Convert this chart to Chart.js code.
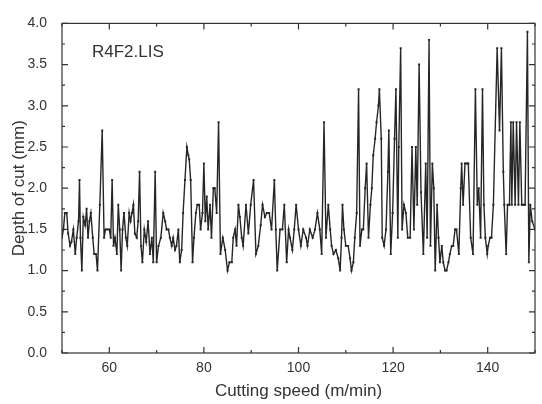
<!DOCTYPE html>
<html>
<head>
<meta charset="utf-8">
<script src="https://cdn.jsdelivr.net/npm/chart.js@4.4.0/dist/chart.umd.min.js"></script>
<style>
  html, body { margin: 0; padding: 0; background: #fff; }
  canvas { display: block; }
</style>
</head>
<body>
<canvas id="depthChart" width="542" height="404"></canvas>
<script>
// Values (cutting speed in m/min, depth of cut in mm)
const speed = [
  50.0, 50.3, 50.6, 51.0, 51.3, 51.7, 52.0, 52.4, 52.8, 53.1, 53.5, 53.7, 53.9, 54.2, 54.5, 54.9,
  55.2, 55.5, 55.8, 56.1, 56.5, 56.8, 57.2, 57.5, 58.0, 58.5, 58.9, 59.2, 59.6, 60.0, 60.3, 60.6,
  60.9, 61.2, 61.6, 61.9, 62.2, 62.5, 62.8, 63.1, 63.5, 63.8, 64.2, 64.5, 64.8, 65.1, 65.4, 65.8,
  66.1, 66.4, 66.7, 67.0, 67.4, 67.8, 68.2, 68.6, 69.0, 69.3, 69.7, 70.0, 70.4, 70.9, 71.4, 71.8,
  72.1, 72.5, 72.8, 73.2, 73.5, 73.9, 74.2, 74.6, 74.9, 75.3, 75.6, 76.0, 76.4, 76.7, 76.9, 77.2,
  77.6, 77.9, 78.3, 78.6, 79.0, 79.3, 79.7, 80.0, 80.3, 80.6, 80.9, 81.3, 81.6, 82.0, 82.3, 82.7,
  83.1, 83.5, 84.0, 84.5, 85.0, 85.4, 85.9, 86.2, 86.6, 86.9, 87.3, 87.6, 88.0, 88.3, 88.9, 89.4,
  89.9, 90.5, 91.0, 91.5, 92.0, 92.4, 92.9, 93.3, 93.8, 94.3, 94.9, 95.2, 95.5, 96.1, 96.6, 97.0,
  97.5, 97.9, 98.2, 98.7, 99.1, 99.5, 100.0, 100.5, 101.0, 101.6, 101.9, 102.4, 103.0, 103.5, 104.0, 104.5,
  104.9, 105.4, 105.8, 106.3, 106.7, 107.0, 107.4, 107.9, 108.4, 108.8, 109.1, 109.3, 109.6, 110.0, 110.5, 110.9,
  111.2, 111.6, 111.9, 112.3, 112.7, 113.0, 113.4, 113.7, 114.1, 114.4, 114.8, 115.2, 115.5, 115.8, 116.2, 116.5,
  116.9, 117.1, 117.5, 117.7, 118.1, 118.5, 118.9, 119.1, 119.5, 119.9, 120.3, 120.6, 121.0, 121.2, 121.6, 121.9,
  122.3, 122.7, 123.1, 123.6, 124.0, 124.4, 124.8, 125.1, 125.5, 125.9, 126.4, 126.9, 127.2, 127.6, 127.9, 128.3,
  128.6, 128.9, 129.3, 129.6, 129.9, 130.3, 130.6, 131.0, 131.3, 131.7, 132.0, 132.4, 132.7, 133.1, 133.4, 133.9,
  134.3, 134.5, 134.8, 135.2, 135.6, 135.9, 136.4, 136.9, 137.4, 137.8, 138.1, 138.5, 138.9, 139.2, 139.5, 139.9,
  140.1, 140.5, 140.8, 141.2, 142.0, 142.5, 142.9, 143.3, 143.5, 143.9, 144.2, 144.6, 144.9, 145.1, 145.4, 145.8,
  146.1, 146.5, 146.8, 147.2, 147.5, 147.9, 148.4, 148.7, 149.0, 149.4, 150.0
];
const depth = [
  1.4, 1.5, 1.7, 1.7, 1.45, 1.3, 1.35, 1.5, 1.2, 1.4, 1.6, 2.1, 1.4, 1.0, 1.65, 1.55,
  1.75, 1.4, 1.6, 1.7, 1.4, 1.2, 1.2, 1.0, 1.8, 2.7, 1.4, 1.5, 1.5, 1.5, 1.4, 2.1,
  1.3, 1.4, 1.2, 1.8, 1.5, 1.0, 1.5, 1.7, 1.4, 1.3, 1.7, 1.6, 1.7, 1.8, 1.45, 1.4,
  1.6, 2.2, 1.3, 1.1, 1.5, 1.35, 1.6, 1.2, 1.4, 1.1, 2.2, 1.1, 1.3, 1.4, 1.7, 1.6,
  1.5, 1.5, 1.4, 1.3, 1.4, 1.25, 1.3, 1.5, 1.1, 1.25, 1.7, 2.1, 2.5, 2.4, 2.35, 2.1,
  1.1, 1.4, 1.7, 1.8, 1.8, 1.5, 1.7, 2.3, 1.6, 1.9, 1.5, 1.8, 1.4, 2.0, 2.0, 1.7,
  2.8, 1.2, 1.4, 1.25, 1.0, 1.1, 1.1, 1.4, 1.5, 1.3, 1.8, 1.65, 1.4, 1.3, 1.8, 1.45,
  1.8, 2.1, 1.2, 1.3, 1.55, 1.8, 1.65, 1.7, 1.7, 1.5, 2.1, 1.5, 1.0, 1.5, 1.5, 1.8,
  1.1, 1.5, 1.4, 1.25, 1.5, 1.8, 1.5, 1.3, 1.5, 1.4, 1.3, 1.5, 1.4, 1.5, 1.7, 1.5,
  1.2, 2.8, 1.4, 1.8, 1.5, 1.3, 1.2, 1.25, 1.15, 1.0, 1.4, 1.8, 1.5, 1.3, 1.3, 1.15,
  1.0, 1.1, 1.4, 1.7, 3.2, 1.3, 1.5, 1.5, 2.0, 2.3, 1.4, 1.8, 2.0, 2.4, 2.6, 2.8,
  3.0, 3.2, 2.6, 1.4, 1.3, 1.5, 2.2, 2.7, 1.2, 1.7, 2.6, 3.2, 1.4, 2.5, 3.7, 1.5,
  1.8, 1.7, 1.4, 1.4, 2.5, 1.5, 2.5, 1.8, 3.5, 1.95, 1.2, 2.3, 1.4, 3.8, 1.3, 2.3,
  2.0, 1.0, 1.8, 1.4, 1.1, 1.3, 1.1, 1.0, 1.0, 1.1, 1.2, 1.3, 1.3, 1.5, 1.5, 1.2,
  2.0, 2.3, 1.8, 2.3, 2.3, 2.3, 1.4, 1.2, 3.2, 1.8, 2.0, 1.4, 3.2, 1.8, 1.4, 1.2,
  1.3, 1.4, 1.4, 1.8, 3.7, 2.7, 3.7, 2.2, 1.8, 1.2, 1.8, 1.8, 2.8, 1.8, 2.8, 1.8,
  2.8, 1.8, 2.8, 1.8, 1.8, 1.8, 3.9, 1.1, 1.8, 1.6, 1.5
];

// Tick labels shown on the axes
const xLabelled = [60, 80, 100, 120, 140];
const fileName = "R4F2.LIS";

const fontFamily = "'Liberation Sans', Arial, sans-serif";
const ink = "#333";

const points = speed.map((s, i) => ({ x: s, y: depth[i] }));

// closed frame with inward ticks on all four sides
const frameTicks = {
  id: "frameTicks",
  afterDraw(chart) {
    const { ctx, chartArea: a, scales } = chart;
    ctx.save();
    ctx.strokeStyle = ink;
    ctx.lineWidth = 1.2;
    ctx.strokeRect(a.left, a.top, a.right - a.left, a.bottom - a.top);
    ctx.beginPath();
    scales.x.ticks.forEach((t) => {
      const px = scales.x.getPixelForValue(t.value);
      const len = t.label ? 6 : 3;
      ctx.moveTo(px, a.bottom);
      ctx.lineTo(px, a.bottom - len);
      ctx.moveTo(px, a.top);
      ctx.lineTo(px, a.top + len);
    });
    scales.y.ticks.forEach((t) => {
      const py = scales.y.getPixelForValue(t.value);
      const len = t.label ? 6 : 3;
      ctx.moveTo(a.left, py);
      ctx.lineTo(a.left + len, py);
      ctx.moveTo(a.right, py);
      ctx.lineTo(a.right - len, py);
    });
    ctx.stroke();
    ctx.restore();
  },
};

const fileLabel = {
  id: "fileLabel",
  afterDraw(chart) {
    const { ctx, chartArea: a } = chart;
    ctx.save();
    ctx.fillStyle = ink;
    ctx.font = "17px " + fontFamily;
    ctx.textBaseline = "middle";
    ctx.fillText(fileName, a.left + 30, a.top + 29);
    ctx.restore();
  },
};

const config = {
  type: "line",
  data: {
    datasets: [
      {
        data: points,
        borderColor: "#262626",
        borderWidth: 1.4,
        pointRadius: 1.4,
        pointStyle: "rect",
        pointBackgroundColor: "#262626",
        pointBorderWidth: 0,
        tension: 0,
      },
    ],
  },
  options: {
    responsive: false,
    animation: false,
    devicePixelRatio: 1,
    layout: { padding: { top: 14, right: 7, left: 0, bottom: 0 } },
    plugins: {
      legend: { display: false },
      tooltip: { enabled: false },
    },
    scales: {
      x: {
        type: "linear",
        min: 50,
        max: 150,
        grid: { display: false, drawTicks: false },
        border: { display: false },
        ticks: {
          stepSize: 10,
          autoSkip: false,
          maxRotation: 0,
          padding: 7,
          color: ink,
          font: { family: fontFamily, size: 14 },
          callback: (v) => (xLabelled.includes(v) ? String(v) : ""),
        },
        title: {
          display: true,
          text: "Cutting speed (m/min)",
          color: ink,
          font: { family: fontFamily, size: 17 },
          padding: { top: 0, bottom: 2 },
        },
        afterFit: (scale) => {
          scale.height = 51;
        },
      },
      y: {
        min: 0,
        max: 4,
        grid: { display: false, drawTicks: false },
        border: { display: false },
        ticks: {
          stepSize: 0.25,
          autoSkip: false,
          padding: 15,
          color: ink,
          font: { family: fontFamily, size: 14 },
          callback: (v) => (Math.round(v * 4) % 2 === 0 ? v.toFixed(1) : ""),
        },
        title: {
          display: true,
          text: "Depth of cut (mm)",
          color: ink,
          font: { family: fontFamily, size: 17 },
          padding: { top: 9, bottom: 0 },
        },
        afterFit: (scale) => {
          scale.width = 62;
        },
      },
    },
  },
  plugins: [frameTicks, fileLabel],
};

new Chart(document.getElementById("depthChart"), config);
</script>
</body>
</html>
